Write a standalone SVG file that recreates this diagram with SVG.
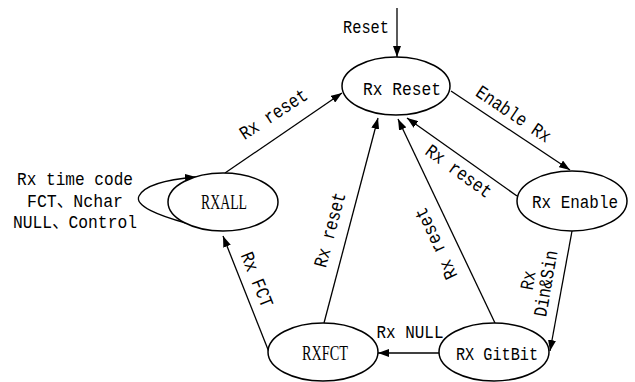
<svg xmlns="http://www.w3.org/2000/svg" width="635" height="382" viewBox="0 0 635 382">
  <defs>
    <marker id="arrow" markerUnits="userSpaceOnUse" markerWidth="11" markerHeight="8" refX="11" refY="4" orient="auto">
      <path d="M0,0 L11,4 L0,8 z" fill="#000"/>
    </marker>
    <style>
      .state ellipse { fill: #fff; stroke: #000; stroke-width: 1.5; }
      .mono { font-family: "Liberation Mono", "Noto Sans CJK SC", monospace; font-size: 19px; fill: #000; }
      .serif { font-family: "Liberation Serif", serif; font-size: 21px; fill: #000; }
      .edge { fill: none; stroke: #000; stroke-width: 1.3; marker-end: url(#arrow); }
    </style>
  </defs>
  <rect width="635" height="382" fill="#fff"/>

  <!-- connectors -->
  <g id="connectors">
    <path class="edge" d="M397,8 L397,57"/>
    <path class="edge" d="M451,91 L570,170"/>
    <path class="edge" d="M517,196 L407,118"/>
    <path class="edge" d="M225,173 L342,93"/>
    <path class="edge" d="M324,323 L378,118"/>
    <path class="edge" d="M495,323 L398,119"/>
    <path class="edge" d="M269,352 L223,236"/>
    <path class="edge" d="M572,231 L550,351"/>
    <path class="edge" d="M439,353 L378,353"/>
    <!-- RXALL self loop -->
    <path class="edge" d="M186,223 C160,216 134,206 139,196 C145,184 172,179 196,177"/>

    <!-- connector labels -->
    <text class="mono" x="366" y="33" text-anchor="middle" textLength="46" lengthAdjust="spacingAndGlyphs">Reset</text>
    <text class="mono" transform="translate(513,115) rotate(34)" x="0" y="5" text-anchor="middle" textLength="86" lengthAdjust="spacingAndGlyphs">Enable Rx</text>
    <text class="mono" transform="translate(458,172) rotate(36)" x="0" y="5" text-anchor="middle" textLength="77" lengthAdjust="spacingAndGlyphs">Rx reset</text>
    <text class="mono" transform="translate(274,115) rotate(-33)" x="0" y="5" text-anchor="middle" textLength="77" lengthAdjust="spacingAndGlyphs">Rx reset</text>
    <text class="mono" transform="translate(331,230) rotate(-75)" x="0" y="5" text-anchor="middle" textLength="77" lengthAdjust="spacingAndGlyphs">Rx reset</text>
    <text class="mono" transform="translate(437,243) rotate(-115)" x="0" y="5" text-anchor="middle" textLength="77" lengthAdjust="spacingAndGlyphs">Rx reset</text>
    <text class="mono" transform="translate(256,280) rotate(68)" x="0" y="5" text-anchor="middle" textLength="58" lengthAdjust="spacingAndGlyphs">Rx FCT</text>
    <text class="mono" x="410" y="338" text-anchor="middle" textLength="67" lengthAdjust="spacingAndGlyphs">Rx NULL</text>
    <g transform="translate(538,282) rotate(-80)">
      <text class="mono" x="0" y="-4" text-anchor="middle" textLength="19" lengthAdjust="spacingAndGlyphs">Rx</text>
      <text class="mono" x="0" y="14" text-anchor="middle" textLength="67" lengthAdjust="spacingAndGlyphs">Din&amp;Sin</text>
    </g>
    <text class="mono" x="75" y="185" text-anchor="middle" textLength="116" lengthAdjust="spacingAndGlyphs">Rx time code</text>
    <text class="mono" x="75" y="207" text-anchor="middle" textLength="96" lengthAdjust="spacingAndGlyphs">FCT、Nchar</text>
    <text class="mono" x="75" y="228" text-anchor="middle" textLength="124" lengthAdjust="spacingAndGlyphs">NULL、Control</text>
  </g>

  <!-- states -->
  <g id="rx-reset" class="state">
    <ellipse cx="396" cy="86" rx="54" ry="29"/>
    <text class="mono" x="402" y="95" text-anchor="middle" textLength="78" lengthAdjust="spacingAndGlyphs">Rx Reset</text>
  </g>
  <g id="rx-enable" class="state">
    <ellipse cx="572" cy="201" rx="55" ry="30"/>
    <text class="mono" x="575" y="208" text-anchor="middle" textLength="86" lengthAdjust="spacingAndGlyphs">Rx Enable</text>
  </g>
  <g id="rxall" class="state">
    <ellipse cx="223" cy="202" rx="55" ry="29"/>
    <text class="serif" x="224" y="209" text-anchor="middle" textLength="46" lengthAdjust="spacingAndGlyphs">RXALL</text>
  </g>
  <g id="rxfct" class="state">
    <ellipse cx="323" cy="352" rx="55" ry="29"/>
    <text class="serif" x="325" y="360" text-anchor="middle" textLength="46" lengthAdjust="spacingAndGlyphs">RXFCT</text>
  </g>
  <g id="rx-gitbit" class="state">
    <ellipse cx="494" cy="352" rx="55" ry="29"/>
    <text class="mono" x="497" y="360" text-anchor="middle" textLength="82" lengthAdjust="spacingAndGlyphs">RX GitBit</text>
  </g>
</svg>
